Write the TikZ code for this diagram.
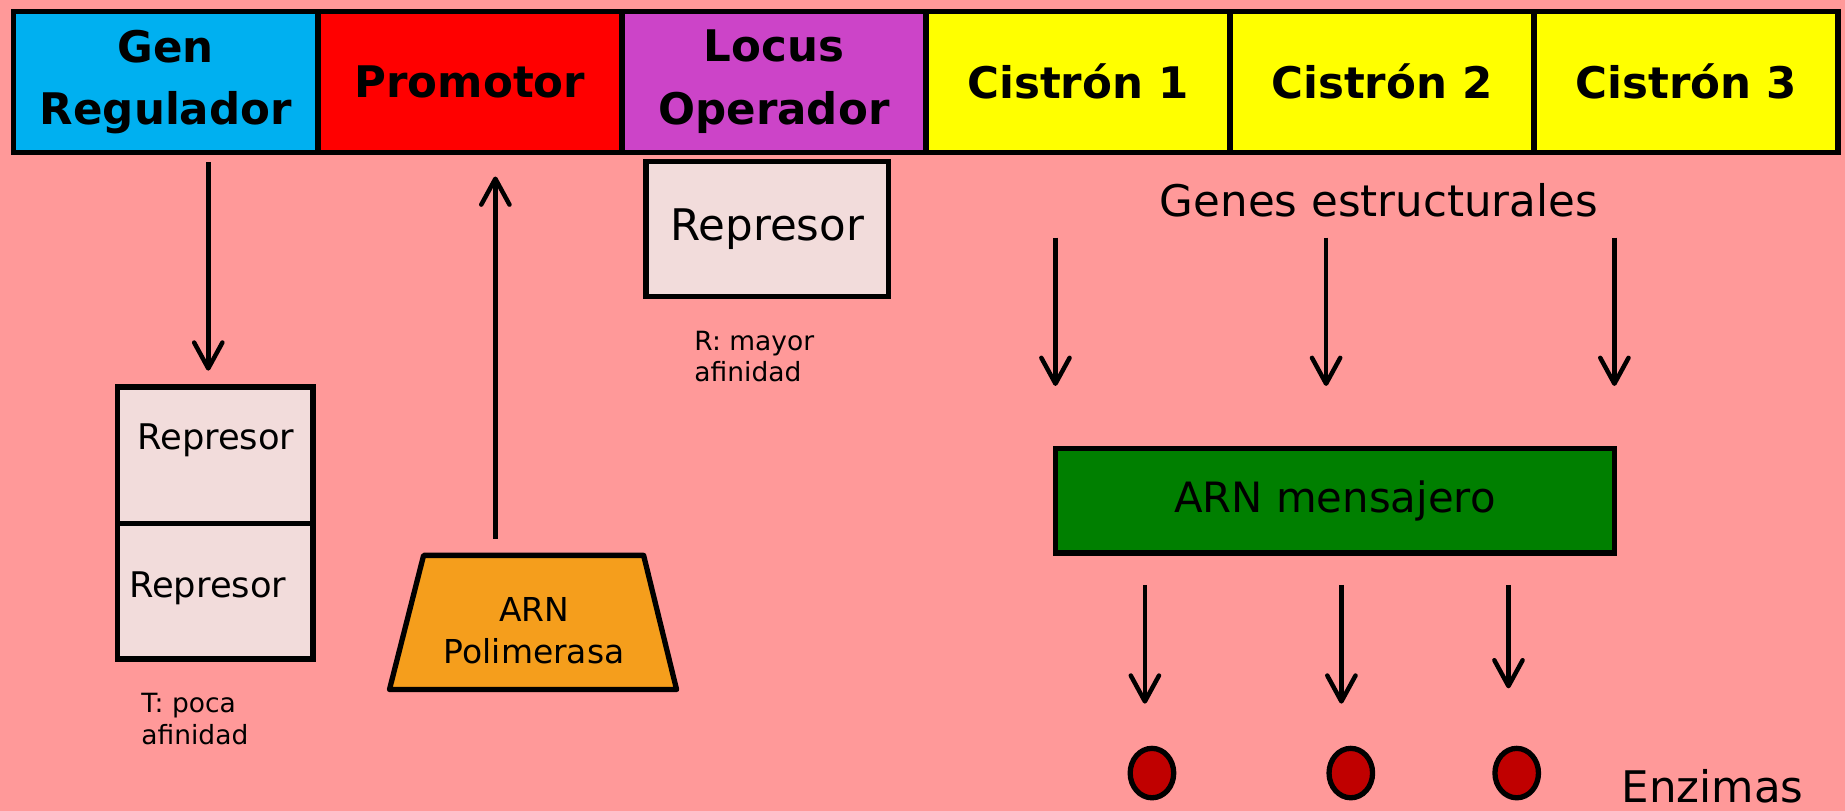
\documentclass[tikz,border=0pt]{standalone}
\usepackage{fontspec}
\setmainfont{DejaVu Sans}
\usetikzlibrary{arrows.meta,shapes.geometric}
\definecolor{bgpink}{HTML}{FF9999}
\definecolor{genblue}{HTML}{00B0F0}
\definecolor{promred}{HTML}{FF0000}
\definecolor{locuspurple}{HTML}{CC44C8}
\definecolor{cisyellow}{HTML}{FFFF00}
\definecolor{repfill}{HTML}{F2DCDB}
\definecolor{polorange}{HTML}{F59E1C}
\definecolor{mrnagreen}{HTML}{007F00}
\definecolor{enzred}{HTML}{C00000}
\begin{document}
\begin{tikzpicture}[x=1pt,y=-1pt,
  barbox/.style={draw=black, line width=4.5pt, minimum width=258.4pt, minimum height=120pt,
    inner sep=0pt, outer sep=0pt, align=center, font=\fontsize{37}{53}\selectfont\bfseries},
  repbox/.style={draw=black, line width=4.5pt, fill=repfill, inner sep=0pt, outer sep=0pt},
  arr/.style={line width=3.8pt, -{Straight Barb[length=22pt,width=24pt,line width=3.8pt,round]}},
  bigtext/.style={font=\fontsize{37}{44}\selectfont},
  medtext/.style={font=\fontsize{30}{36}\selectfont, align=center},
  smalltext/.style={font=\fontsize{22.5}{27}\selectfont, align=left, anchor=west, inner sep=0pt},
  enz/.style={ellipse, draw=black, line width=4.5pt, fill=enzred, minimum width=37pt, minimum height=42pt, inner sep=0pt}
]
\fill[bgpink] (0,0) rectangle (1568,689);
\useasboundingbox (0,0) rectangle (1568,689);

% top bar
\node[barbox, fill=genblue] (gen) at (140.95,69.5) {Gen\\Regulador};
\node[barbox, fill=promred] (prom) at (399.35,69.5) {Promotor};
\node[barbox, fill=locuspurple] (locus) at (657.75,69.5) {Locus\\Operador};
\node[barbox, fill=cisyellow] (c1) at (916.15,69.5) {Cistrón 1};
\node[barbox, fill=cisyellow] (c2) at (1174.55,69.5) {Cistrón 2};
\node[barbox, fill=cisyellow] (c3) at (1432.95,69.5) {Cistrón 3};

% left represor boxes
\node[repbox, minimum width=166pt, minimum height=116pt] (rep1) at (183,387) {};
\node[repbox, minimum width=166pt, minimum height=115pt] (rep2) at (183,502.5) {};
\node[medtext] (rep1t) at (183.5,374) {Represor};
\node[medtext] (rep2t) at (176.5,500) {Represor};
\node[smalltext] (tlab) at (120,611) {T: poca\\afinidad};

% operator represor
\node[repbox, minimum width=206pt, minimum height=115pt, bigtext] (rep3) at (652,194.5) {Represor};
\node[smalltext] (rlab) at (590,303) {R: mayor\\afinidad};

% ARN polimerasa
\coordinate (ptl) at (360,472);
\coordinate (ptr) at (547,472);
\coordinate (pbr) at (575,586);
\coordinate (pbl) at (331,586);
\draw[line width=4.5pt, line join=round, fill=polorange] (ptl) -- (ptr) -- (pbr) -- (pbl) -- cycle;
\node[font=\fontsize{28}{36}\selectfont, align=center] (pol) at (454,536) {ARN\\Polimerasa};

% arrows left
\coordinate (ga1) at (177,138);
\coordinate (ga2) at (177,315);
\draw[arr] (ga1) -- (ga2);
\coordinate (pa1) at (421,458);
\coordinate (pa2) at (421,150);
\draw[arr] (pa1) -- (pa2);

% structural genes
\node[bigtext] (genes) at (1172,170) {Genes estructurales};
\coordinate (s1a) at (897,202); \coordinate (s1b) at (897,328);
\coordinate (s2a) at (1127,202); \coordinate (s2b) at (1127,328);
\coordinate (s3a) at (1372,202); \coordinate (s3b) at (1372,328);
\draw[arr] (s1a) -- (s1b);
\draw[arr] (s2a) -- (s2b);
\draw[arr] (s3a) -- (s3b);

% mRNA
\node[draw=black, line width=4.5pt, fill=mrnagreen, minimum width=475pt, minimum height=89pt,
  inner sep=0pt, font=\fontsize{35.5}{40}\selectfont] (mrna) at (1134.5,425.5) {ARN mensajero};

\coordinate (m1a) at (973,497); \coordinate (m1b) at (973,598);
\coordinate (m2a) at (1140,497); \coordinate (m2b) at (1140,598);
\coordinate (m3a) at (1282,497); \coordinate (m3b) at (1282,585);
\draw[arr] (m1a) -- (m1b);
\draw[arr] (m2a) -- (m2b);
\draw[arr] (m3a) -- (m3b);

% enzymes
\node[enz] (e1) at (979,657) {};
\node[enz] (e2) at (1148,657) {};
\node[enz] (e3) at (1289,657) {};
\node[bigtext, anchor=west, inner sep=0pt] (enzlab) at (1378,668) {Enzimas};
\end{tikzpicture}
\end{document}
